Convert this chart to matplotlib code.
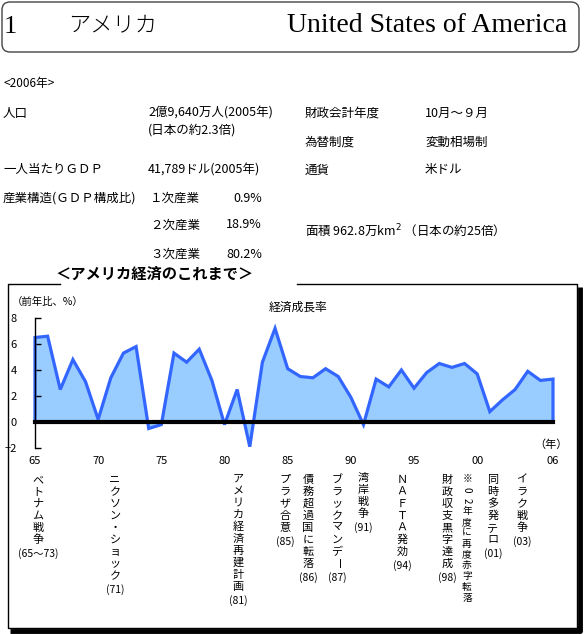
import matplotlib
matplotlib.use('Agg')
import matplotlib.pyplot as plt
from matplotlib.patches import FancyBboxPatch

plt.rcParams['font.family'] = ['Noto Sans CJK JP', 'DejaVu Sans']

# data
years = list(range(1965, 2007))
growth = [6.5, 6.6, 2.5, 4.8, 3.1, 0.2, 3.4, 5.3, 5.8, -0.5,
          -0.2, 5.3, 4.6, 5.6, 3.2, -0.2, 2.5, -1.9, 4.6, 7.2,
          4.1, 3.5, 3.4, 4.1, 3.5, 1.9, -0.2, 3.3, 2.7, 4.0,
          2.6, 3.8, 4.5, 4.2, 4.5, 3.7, 0.8, 1.7, 2.5, 3.9,
          3.2, 3.3]
tick_years = [1965, 1970, 1975, 1980, 1985, 1990, 1995, 2000, 2006]
tick_labels = ['65', '70', '75', '80', '85', '90', '95', '00', '06']
y_ticks = [-2, 0, 2, 4, 6, 8]

events = ['ベトナム戦争', 'ニクソン・ショック', 'アメリカ経済再建計画', 'プラザ合意',
          '債務超過国に転落', 'ブラックマンデー', '湾岸戦争', 'ＮＡＦＴＡ発効',
          '財政収支黒字達成', '同時多発テロ', 'イラク戦争']
event_years = ['(65～73)', '(71)', '(81)', '(85)', '(86)', '(87)', '(91)',
               '(94)', '(98)', '(01)', '(03)']
note = '※02年度に再度赤字転落'

info_left = [('人口', '2億9,640万人(2005年)'),
             ('', '(日本の約2.3倍)'),
             ('一人当たりＧＤＰ', '41,789ドル(2005年)'),
             ('産業構造(ＧＤＰ構成比)', '')]
industry = ['１次産業', '２次産業', '３次産業']
industry_share = ['0.9%', '18.9%', '80.2%']
info_right = [('財政会計年度', '10月～９月'),
              ('為替制度', '変動相場制'),
              ('通貨', '米ドル')]
area = '面積 962.8万km$^2$ （日本の約25倍）'

fig = plt.figure(figsize=(5.84, 6.34), dpi=100)

# pixel-coordinate background axes
bg = fig.add_axes([0, 0, 1, 1])
bg.set_xlim(0, 584)
bg.set_ylim(634, 0)
bg.axis('off')

# header
bg.add_patch(FancyBboxPatch((2, 2), 577, 50, boxstyle='round,pad=0,rounding_size=8',
                            fill=False, ec='#444444', lw=1))
bg.text(4, 27, '1', fontsize=19, family='Liberation Serif', va='center')
bg.text(68, 25, 'アメリカ', fontsize=16, va='center', fontweight='light')
bg.text(567, 26, 'United States of America', fontsize=20, family='Liberation Serif',
        va='center', ha='right')

# info block
fs = 9
bg.text(3, 84, '<2006年>', fontsize=8.5, va='center')
rows_left = [113, 130, 170, 198]
for (k, v), y in zip(info_left, rows_left):
    bg.text(3, y, k, fontsize=fs, va='center')
    bg.text(148, y, v, fontsize=fs, va='center')
for name, share, y in zip(industry, industry_share, [198, 225, 254]):
    bg.text(150, y, name, fontsize=fs, va='center')
    bg.text(262, y, share, fontsize=fs, va='center', ha='right')
for (k, v), y in zip(info_right, [113, 142, 170]):
    bg.text(305, y, k, fontsize=fs, va='center')
    bg.text(425, y, v, fontsize=fs, va='center')
bg.text(305, 231, area, fontsize=fs, va='center')

# chart frame with shadow
bg.plot([60, 8, 8, 577, 577, 297], [284, 284, 628, 628, 284, 284], color='black', lw=1)
bg.plot([579.5, 579.5, 10], [287, 631, 631], color='black', lw=3.5, solid_capstyle='butt')
bg.text(155, 274, '＜アメリカ経済のこれまで＞', fontsize=11, ha='center', va='center',
        fontweight='bold')
bg.text(12, 302, '（前年比、%）', fontsize=7.5, va='center')
bg.text(298, 307, '経済成長率', fontsize=8.5, ha='center', va='center')
bg.text(551, 445, '（年）', fontsize=8, ha='center', va='center')

# growth chart
ax = fig.add_axes([35 / 584, 1 - 448 / 634, 518 / 584, 130 / 634])
ax.fill_between(years, growth, 0, color='#99CCFF', lw=0)
ax.plot([years[0]] + years + [years[-1]], [0] + growth + [0], color='#3366FF', lw=2.3,
        clip_on=False, solid_joinstyle='miter')
ax.axhline(0, color='black', lw=3, clip_on=False)
ax.set_xlim(1965, 2006)
ax.set_ylim(-2, 8)
ax.set_facecolor('none')
for s in ['top', 'right', 'bottom']:
    ax.spines[s].set_visible(False)
ax.spines['left'].set_linewidth(1)
ax.set_yticks(y_ticks)
ax.tick_params(axis='y', direction='in', length=4, width=1, pad=13, labelsize=8)
ax.set_xticks(tick_years, tick_labels)
ax.tick_params(axis='x', length=0, pad=6, labelsize=8)

# vertical event labels
def vtext(x, y, s, size=8, step=12, rotate=''):
    for i, ch in enumerate(s):
        rot = -90 if (ch == 'ー' or ch in rotate) else 0
        bg.text(x, y + i * step, ch, fontsize=size, ha='center', va='center', rotation=rot)
    return y + (len(s) - 1) * step

event_x = [38, 115, 238, 285, 308, 337, 363, 402, 447, 493, 522]
event_top = [480, 480, 479, 480, 480, 480, 478, 480, 480, 480, 480]
for x, top, s, lab in zip(event_x, event_top, events, event_years):
    last = vtext(x, top, s)
    bg.text(x, last + 14, lab, fontsize=7.5, ha='center', va='center')
vtext(467, 479, note, size=7, step=10.8, rotate='02')

fig.savefig('out.png', dpi=100)
